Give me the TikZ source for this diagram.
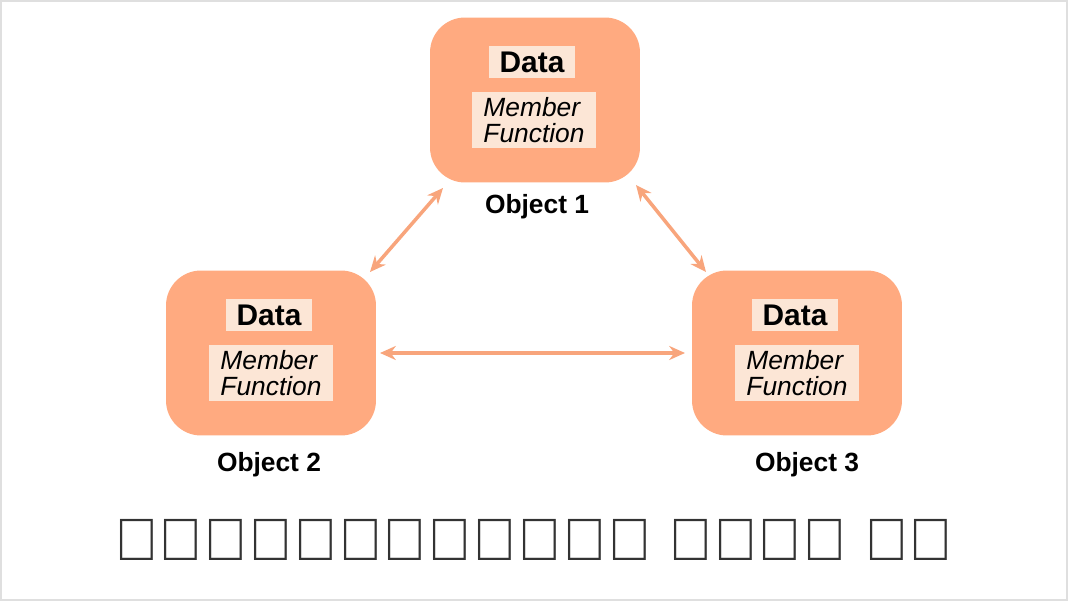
\documentclass[tikz,border=0pt]{standalone}
\usepackage{fontspec}
\setmainfont{Liberation Sans}
\usetikzlibrary{arrows.meta}
\definecolor{obj}{HTML}{FFAA80}
\definecolor{inner}{HTML}{FCE6D6}
\definecolor{arr}{HTML}{F8A57C}
\begin{document}
\begin{tikzpicture}[x=0.02cm,y=-0.02cm,
  objbox/.style={fill=obj,rounded corners=0.7cm,minimum width=4.2cm,minimum height=3.3cm,inner sep=0},
  datab/.style={fill=inner,minimum width=1.72cm,minimum height=0.64cm,font=\bfseries\fontsize{17}{17}\selectfont,inner sep=0},
  memb/.style={fill=inner,minimum width=2.48cm,minimum height=1.14cm,font=\itshape\fontsize{15}{15}\selectfont,align=left,inner sep=0},
  lab/.style={font=\bfseries\fontsize{15}{15}\selectfont},
  link/.style={arr,line width=2pt,{Stealth[length=9pt,width=8pt]}-{Stealth[length=9pt,width=8pt]}}]
\useasboundingbox (0,0) rectangle (1068,601);
\draw[gray!25,line width=1pt] (1,1) rectangle (1067,600);
\node[objbox] (o1) at (535,100) {};
\node[datab] (d1) at (532,62) {Data};
\node[memb] (m1) at (534,120) {Member\\Function};
\node[lab] (l1) at (537,207) {Object 1};
\node[objbox] (o2) at (271,353) {};
\node[datab] (d2) at (269,315) {Data};
\node[memb] (m2) at (271,373) {Member\\Function};
\node[lab] (l2) at (269,465) {Object 2};
\node[objbox] (o3) at (797,353) {};
\node[datab] (d3) at (795,315) {Data};
\node[memb] (m3) at (797,373) {Member\\Function};
\node[lab] (l3) at (807,465) {Object 3};
\coordinate (a1) at (443,188); \coordinate (a2) at (370,272);
\coordinate (b1) at (636,185); \coordinate (b2) at (706,272);
\coordinate (c1) at (380,353); \coordinate (c2) at (685,353);
\draw[link] (a1) -- (a2);
\draw[link] (b1) -- (b2);
\draw[link] (c1) -- (c2);
\node[font=\bfseries\fontsize{34}{34}\selectfont,text=black!80] (t) at (534,540) {एनकैप्सुलेशन क्या है};
\end{tikzpicture}
\end{document}
